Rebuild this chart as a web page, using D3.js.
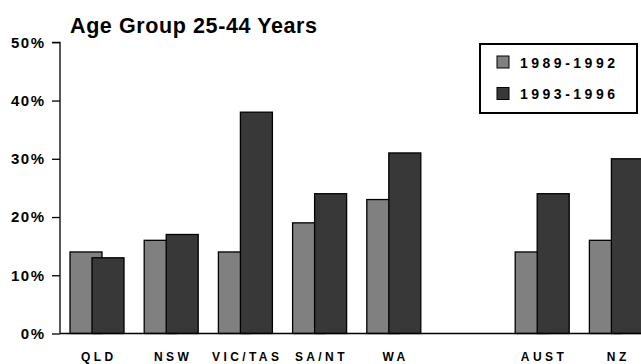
<!DOCTYPE html>
<html>
<head>
<meta charset="utf-8">
<script src="https://cdn.jsdelivr.net/npm/d3@7/dist/d3.min.js"></script>
<style>
  html, body { margin: 0; padding: 0; background: #fff; }
  svg { display: block; font-family: Arial, "Liberation Sans", sans-serif; }
</style>
</head>
<body>
<svg id="chart" width="641" height="364"></svg>
<script>
// Share of the 25-44 age group, by region and period
const title = "Age Group 25-44 Years";
const categories = ["QLD", "NSW", "VIC/TAS", "SA/NT", "WA", "AUST", "NZ"];
const gapBefore = "AUST";               // an empty slot separates states from totals
const seriesNames = ["1989-1992", "1993-1996"];
const values1989 = [14, 16, 14, 19, 23, 14, 16];
const values1993 = [13, 17, 38, 24, 31, 24, 30];
const yTicks = [0, 10, 20, 30, 40, 50];
const colors = ["#808080", "#383838"];

const svg = d3.select("#chart");
const plotLeft = 60, plotRight = 653.6, plotTop = 42.3, plotBottom = 333.5;

// band domain with a spacer slot
const slots = [];
categories.forEach(c => { if (c === gapBefore) slots.push("__gap__"); slots.push(c); });

const x = d3.scaleBand().domain(slots).range([plotLeft, plotRight]).paddingInner(0).paddingOuter(0);
const y = d3.scaleLinear().domain([0, 50]).range([plotBottom, plotTop]);

const bw = x.bandwidth();
const barW = bw * 32 / 74.2;
const off1 = bw * 10 / 74.2;
const off2 = bw * 32 / 74.2;

// title
svg.append("text")
  .attr("x", 70).attr("y", 33)
  .attr("font-size", 21.5).attr("font-weight", "bold")
  .attr("letter-spacing", 0.6)
  .text(title);

// y axis
const yAxis = d3.axisLeft(y).tickValues(yTicks).tickFormat(d => d + "%").tickSize(8).tickPadding(8);
const gy = svg.append("g").attr("transform", `translate(${plotLeft},0)`).call(yAxis);
gy.select(".domain").attr("stroke", "#000").attr("stroke-width", 1.3).attr("d", `M-8,${y(50)}H0V${plotBottom}`);
gy.selectAll(".tick line").attr("stroke", "#000").attr("stroke-width", 1.3);
gy.selectAll(".tick text")
  .attr("font-size", 15).attr("font-weight", "bold").attr("fill", "#000")
  .attr("font-family", "Arial, 'Liberation Sans', sans-serif")
  .attr("letter-spacing", 1.5).attr("dx", 1.5);

// bars: earlier period behind, later period overlapping in front
const rows = categories.map((c, i) => ({ c, a: values1989[i], b: values1993[i] }));
svg.append("g").selectAll("rect").data(rows).join("rect")
  .attr("x", d => x(d.c) + off1).attr("width", barW)
  .attr("y", d => y(d.a)).attr("height", d => plotBottom - y(d.a))
  .attr("fill", colors[0]).attr("stroke", "#000").attr("stroke-width", 1.3);
svg.append("g").selectAll("rect").data(rows).join("rect")
  .attr("x", d => x(d.c) + off2).attr("width", barW)
  .attr("y", d => y(d.b)).attr("height", d => plotBottom - y(d.b))
  .attr("fill", colors[1]).attr("stroke", "#000").attr("stroke-width", 1.3);

// x axis line and category labels
const xAxis = d3.axisBottom(x).tickValues(categories).tickSize(0).tickPadding(19);
const gx = svg.append("g").attr("transform", `translate(0,${plotBottom})`).call(xAxis);
gx.select(".domain").attr("stroke", "#000").attr("stroke-width", 1.3).attr("d", `M${plotLeft},0H641`);
gx.selectAll(".tick text")
  .attr("font-size", 12).attr("font-weight", "bold").attr("fill", "#000")
  .attr("font-family", "Arial, 'Liberation Sans', sans-serif")
  .attr("letter-spacing", 3.4).attr("dx", 1.7).attr("dy", "0.71em");

// legend
const lg = svg.append("g");
lg.append("rect").attr("x", 480).attr("y", 44).attr("width", 157).attr("height", 69)
  .attr("fill", "#fff").attr("stroke", "#000").attr("stroke-width", 2);
seriesNames.forEach((name, i) => {
  const cy = 62.5 + i * 31.5;
  lg.append("rect").attr("x", 497).attr("y", cy - 6.5).attr("width", 12).attr("height", 12)
    .attr("fill", colors[i]).attr("stroke", "#000").attr("stroke-width", 1);
  lg.append("text").attr("x", 520).attr("y", cy + 5)
    .attr("font-size", 14).attr("font-weight", "bold").attr("letter-spacing", 3.5)
    .text(name);
});
</script>
</body>
</html>
